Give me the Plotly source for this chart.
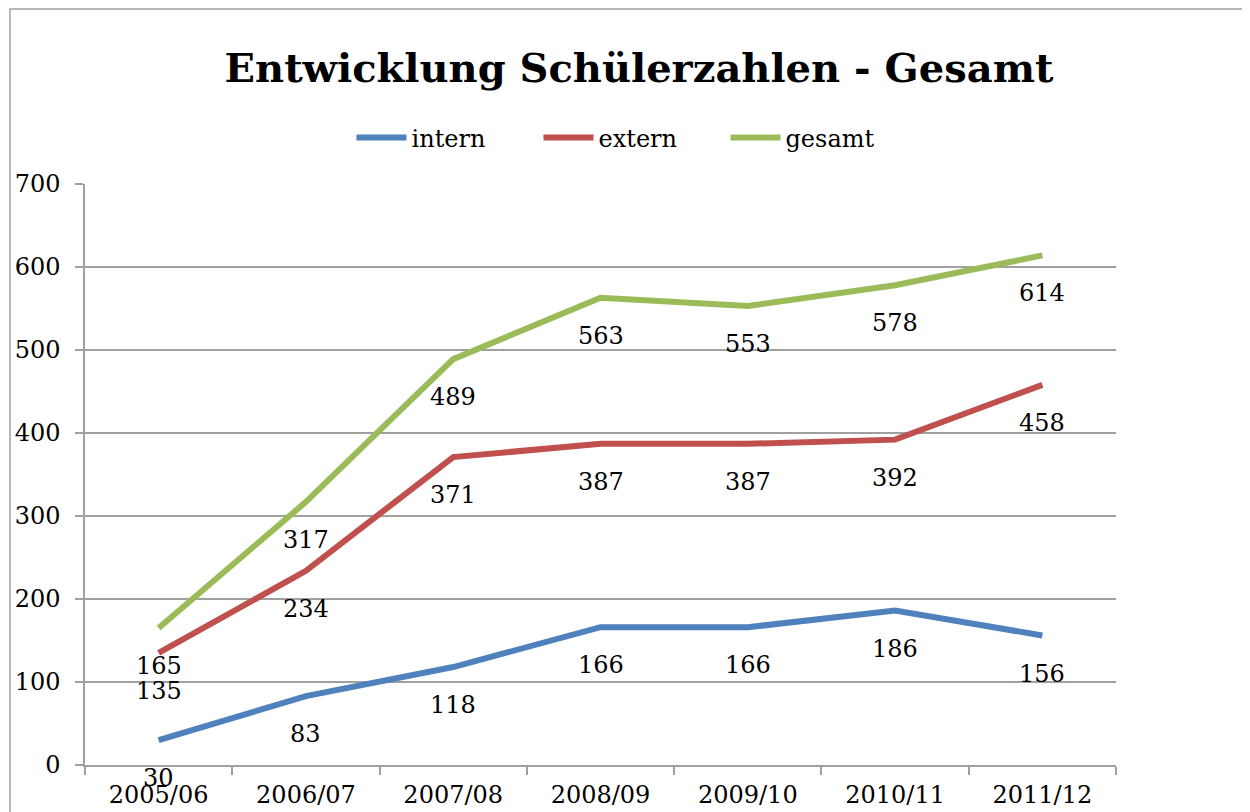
import plotly.graph_objects as go

years = ["2005/06", "2006/07", "2007/08", "2008/09", "2009/10", "2010/11", "2011/12"]
intern = [30, 83, 118, 166, 166, 186, 156]
extern = [135, 234, 371, 387, 387, 392, 458]
gesamt = [165, 317, 489, 563, 553, 578, 614]

series = [("intern", intern, "#4f81bd"), ("extern", extern, "#c0504d"), ("gesamt", gesamt, "#9bbb59")]
FONT = "DejaVu Serif"
FS = 24
OFF = 8  # page body margin offset

L, T, R, B = 85 - OFF, 184 - OFF, 1116 - OFF, 765 - OFF
W, H = 1250, 812
PW, PH = R - L, B - T

fig = go.Figure()
for name, vals, col in series:
    fig.add_trace(go.Scatter(x=years, y=vals, name=name, mode="lines",
                             line=dict(color=col, width=6)))

annotations = []
for name, vals, col in series:
    for x, v in zip(years, vals):
        annotations.append(dict(x=x, y=v, xref="x", yref="y", text=str(v), showarrow=False,
                                yshift=-38, font=dict(family=FONT, size=FS, color="black")))

fig.update_layout(
    width=W, height=H,
    margin=dict(l=L, r=W - R, t=T, b=H - B, autoexpand=False),
    paper_bgcolor="white", plot_bgcolor="white",
    title=dict(text="<b>Entwicklung Schülerzahlen - Gesamt</b>", x=(639 - OFF) / W, xanchor="center",
               y=1 - (68 - OFF) / H, yanchor="middle",
               font=dict(family=FONT, size=40, color="black")),
    legend=dict(orientation="h", x=(632 - OFF - L) / PW, xanchor="center",
                y=1 + (T - (138 - OFF)) / PH, yanchor="middle",
                font=dict(family=FONT, size=FS, color="black"), itemwidth=50,
                entrywidth=122, traceorder="normal"),
    annotations=annotations,
    shapes=[dict(type="rect", xref="paper", yref="paper", x0=(10 - OFF - L) / PW, x1=1.3,
                 y0=-0.3, y1=1 + (T - (9 - OFF)) / PH, line=dict(color="#a0a0a0", width=1.5),
                 fillcolor="rgba(0,0,0,0)", layer="below")],
)
fig.update_xaxes(type="category", range=[-0.5, 6.5], showline=True, linecolor="#a0a0a0", linewidth=1.5,
                 ticks="outside", tickson="boundaries", ticklen=8, tickcolor="#a0a0a0", tickwidth=1.5,
                 showgrid=False, automargin=False, ticklabelstandoff=7,
                 tickfont=dict(family=FONT, size=FS, color="black"))
fig.update_yaxes(range=[0, 700], dtick=100, showline=True, linecolor="#a0a0a0", linewidth=1.5,
                 ticks="outside", ticklen=8, tickcolor="#a0a0a0", tickwidth=1.5,
                 gridcolor="#a0a0a0", gridwidth=1.5, zeroline=False, automargin=False,
                 ticklabelstandoff=10,
                 tickfont=dict(family=FONT, size=FS, color="black"))

fig.write_html("out.html")
